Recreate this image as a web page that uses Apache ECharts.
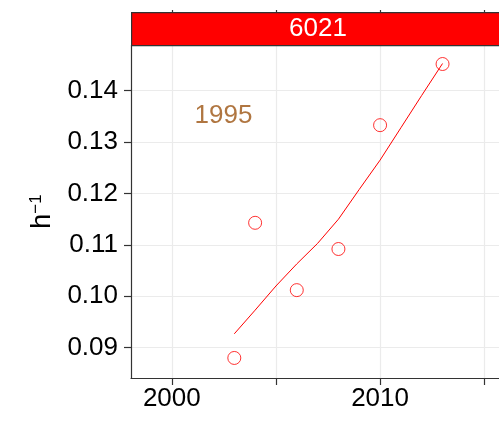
<!DOCTYPE html>
<html>
<head>
<meta charset="utf-8">
<script src="https://cdn.jsdelivr.net/npm/echarts@6/dist/echarts.min.js"></script>
<style>html,body{margin:0;padding:0;background:#fff}#c{width:499px;height:421px}</style>
</head>
<body>
<div id="c"></div>
<script>
// data
var pointYears = [2003, 2004, 2006, 2008, 2010, 2013];
var pointValues = [0.0880, 0.1143, 0.1012, 0.1092, 0.1333, 0.1452];
var fitYears = [2003, 2004, 2005, 2006, 2007, 2008, 2009, 2010, 2011, 2012, 2013];
var fitValues = [0.0927, 0.0973, 0.1020, 0.1063, 0.1103, 0.1150, 0.1208, 0.1265, 0.1328, 0.1391, 0.1453];
var xTicks = [2000, 2005, 2010, 2015];
var xLabels = [2000, 2010];
var yTicks = [0.09, 0.10, 0.11, 0.12, 0.13, 0.14];
var stripLabel = '6021';
var annotation = { x: 2002.48, y: 0.1351, text: '1995' };
var xMin = 1998.04, xMax = 2015.71, yMin = 0.0841, yMax = 0.1489;

var font = 'Liberation Sans, Arial, sans-serif';
var chart = echarts.init(document.getElementById('c'), null, {renderer: 'canvas'});
var option = {
  animation: false,
  backgroundColor: '#ffffff',
  grid: [
    {left: 131, right: -6, top: 45, bottom: 43, containLabel: false},
    {left: 131, right: -6, top: -20, height: 24, containLabel: false}
  ],
  xAxis: [
    {
      type: 'value', gridIndex: 0, min: xMin, max: xMax,
      axisLine: {show: true, onZero: false, lineStyle: {color: '#333', width: 1.2}},
      axisTick: {show: true, length: 7, customValues: xTicks, lineStyle: {color: '#333', width: 1.2}},
      axisLabel: {customValues: xLabels, color: '#000', fontSize: 26, fontFamily: font, margin: 8, formatter: function(v){return String(Math.round(v));}},
      splitLine: {show: true, lineStyle: {color: '#ebebeb', width: 1.2}}
    },
    {
      type: 'value', gridIndex: 1, min: xMin, max: xMax,
      axisLine: {show: false},
      axisTick: {show: true, length: 8, customValues: xTicks, lineStyle: {color: '#333', width: 1.2}},
      axisLabel: {show: false, customValues: xTicks},
      splitLine: {show: false}
    }
  ],
  yAxis: [
    {
      type: 'value', gridIndex: 0, min: yMin, max: yMax,
      name: 'h{sup|−1}', nameLocation: 'middle', nameRotate: 90, nameGap: 72,
      nameTextStyle: {fontSize: 27, color: '#000', fontFamily: font,
        rich: {sup: {fontSize: 17, color: '#000', fontFamily: font, verticalAlign: 'top', padding: [0,0,14,0]}}},
      axisLine: {show: true, onZero: false, lineStyle: {color: '#333', width: 1.2}},
      axisTick: {show: true, length: 7, customValues: yTicks, lineStyle: {color: '#333', width: 1.2}},
      axisLabel: {customValues: yTicks, color: '#000', fontSize: 26, fontFamily: font, margin: 13, formatter: function(v){return v.toFixed(2);}},
      splitLine: {show: true, lineStyle: {color: '#ebebeb', width: 1.2}}
    },
    {type: 'value', gridIndex: 1, min: 0, max: 1, show: false}
  ],
  series: [
    {
      type: 'line', xAxisIndex: 0, yAxisIndex: 0,
      data: fitYears.map(function(x, i){return [x, fitValues[i]];}),
      smooth: false, symbol: 'none', lineStyle: {color: '#ff0000', width: 1}, z: 3
    },
    {
      type: 'scatter', xAxisIndex: 0, yAxisIndex: 0,
      data: pointYears.map(function(x, i){return [x, pointValues[i]];}),
      symbol: 'circle', symbolSize: 13,
      itemStyle: {color: 'rgba(0,0,0,0)', borderColor: '#ff0000', borderWidth: 1}, z: 4
    },
    {
      type: 'scatter', xAxisIndex: 0, yAxisIndex: 0,
      data: [[annotation.x, annotation.y]], symbolSize: 0, silent: true,
      label: {show: true, position: 'inside', formatter: annotation.text, color: '#9c5412', fontSize: 26, fontFamily: font}
    }
  ],
  graphic: [
    {
      type: 'rect', left: 131, top: 12, z: 10,
      shape: {width: 374, height: 33},
      style: {fill: '#ff0000', stroke: '#333', lineWidth: 1.2}
    },
    {
      type: 'text', x: 318, y: 29, z: 11,
      style: {text: stripLabel, fill: '#ffffff', fontSize: 26, fontFamily: font, align: 'center', verticalAlign: 'middle'}
    }
  ]
};
chart.setOption(option);
</script>
</body>
</html>
